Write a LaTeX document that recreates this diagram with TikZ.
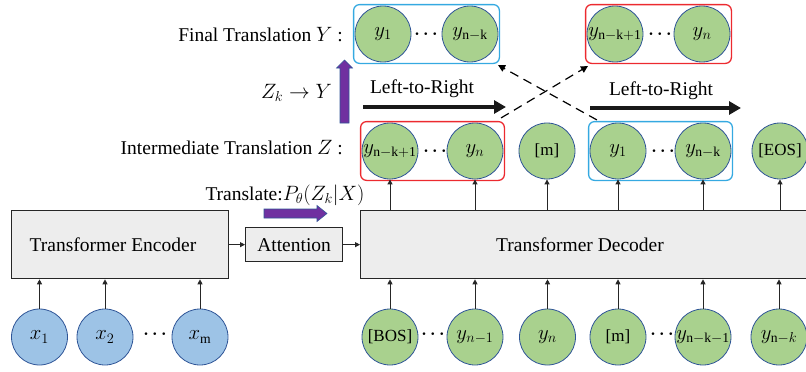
\documentclass[tikz,border=0pt]{standalone}
\usepackage{fontspec}
\setmainfont{Liberation Serif}
\usetikzlibrary{arrows.meta,fit,calc}
\definecolor{cgreen}{HTML}{A9D18E}
\definecolor{cblue}{HTML}{9DC3E6}
\definecolor{cedge}{HTML}{2F5597}
\definecolor{cgray}{HTML}{EDEDED}
\definecolor{cred}{HTML}{EC2A2F}
\definecolor{clblue}{HTML}{35A9E1}
\definecolor{cpurple}{HTML}{7030A0}
\tikzset{
  gc/.style={circle,draw=cedge,line width=0.8pt,fill=cgreen,minimum size=56pt,inner sep=0pt,font=\fontsize{17}{20}\selectfont},
  gcm/.style={gc,font=\fontsize{19.5}{22}\selectfont},
  bc/.style={gcm,fill=cblue},
  blk/.style={draw=black!85,line width=1.3pt,fill=cgray,font=\fontsize{19.5}{23}\selectfont},
  dts/.style={font=\fontsize{18}{20}\selectfont\boldmath,inner sep=0pt},
  lbl/.style={font=\fontsize{19.5}{23}\selectfont,inner sep=0pt},
  grp/.style={rounded corners=6pt,line width=1.3pt,inner sep=1pt},
  redgrp/.style={grp,draw=cred},
  bluegrp/.style={grp,draw=clblue},
  arr/.style={-{Triangle[length=5pt,width=5pt]},line width=0.9pt,black!85},
  bigarr/.style={-{Triangle[length=12pt,width=13pt]},line width=4pt,black!90},
  dasharr/.style={-{Triangle[length=7pt,width=7pt]},line width=1.2pt,dash pattern=on 9pt off 6pt},
  parr/.style={fill=cpurple,draw=cedge,line width=0.6pt},
}
\begin{document}
\begin{tikzpicture}[x=1pt,y=-1pt]
\useasboundingbox (0,0) rectangle (806,372);
% blocks
\node[blk,minimum width=217pt,minimum height=68pt,anchor=north west] (enc) at (11,210) {};
\node[lbl] (enct) at (113,245) {Transformer Encoder};
\node[blk,minimum width=97pt,minimum height=34pt,anchor=north west,inner sep=0pt] (att) at (245,227) {Attention};
\node[blk,minimum width=460pt,minimum height=68pt,anchor=north west] (dec) at (360,210) {};
\node[lbl] (dect) at (580,245) {Transformer Decoder};
% encoder inputs
\node[bc] (x1) at (39.5,337) {$x_1$};
\node[bc] (x2) at (105,337) {$x_2$};
\node[bc] (xm) at (200,337) {$x_{\mathrm{m}}$};
\node[dts] (dx) at (155,334) {$\cdots$};
% decoder inputs
\node[gc] (b1) at (390,337) {[BOS]};
\node[gcm] (b2) at (475,337) {$y_{n-1}$};
\node[gcm] (b3) at (547.5,337) {$y_n$};
\node[gc] (b4) at (618,337) {[m]};
\node[gcm] (b5) at (703,337) {$y_{\mathrm{n-k-1}}$};
\node[gcm] (b6) at (779,337) {$y_{\mathrm{n}-k}$};
\node[dts] (db1) at (433,334) {$\cdots$};
\node[dts] (db2) at (662,334) {$\cdots$};
% intermediate
\node[gcm] (m1) at (390,151) {$y_{\mathrm{n-k+1}}$};
\node[gcm] (m2) at (475,151) {$y_n$};
\node[gc] (m3) at (547,151) {[m]};
\node[gcm] (m4) at (618,151) {$y_1$};
\node[gcm] (m5) at (703,151) {$y_{\mathrm{n-k}}$};
\node[gc] (m6) at (780,151) {[EOS]};
\node[dts] (dm1) at (435,151) {$\cdots$};
\node[dts] (dm2) at (663,151) {$\cdots$};
\node[redgrp,fit=(m1)(m2)] (rmid) {};
\node[bluegrp,fit=(m4)(m5)] (bmid) {};
% final
\node[gcm] (t1) at (383,34) {$y_1$};
\node[gcm] (t2) at (470,34) {$y_{\mathrm{n-k}}$};
\node[gcm] (t3) at (615,34) {$y_{\mathrm{n-k+1}}$};
\node[gcm] (t4) at (702,34) {$y_n$};
\node[dts] (dt1) at (426,34) {$\cdots$};
\node[dts] (dt2) at (660,34) {$\cdots$};
\node[bluegrp,fit=(t1)(t2)] (btop) {};
\node[redgrp,fit=(t3)(t4)] (rtop) {};
% arrows
\draw[arr] (enc.east |- att.west) -- (att.west);
\draw[arr] (att.east) -- (att.east -| dec.west);
\foreach \n in {x1,x2,xm} \draw[arr] (\n.north) -- (\n.north |- enc.south);
\foreach \n in {b1,b2,b3,b4,b5,b6} \draw[arr] (\n.north) -- (\n.north |- dec.south);
\foreach \n in {m1,m2,m3,m4,m5,m6} \draw[arr] (\n.south |- dec.north) -- (\n.south);
\draw[dasharr] ([shift={(-4,-3)}]rmid.north east) -- ([shift={(3,2)}]rtop.south west);
\draw[dasharr] ([shift={(9,-1)}]bmid.north west) -- ([shift={(-2,1)}]btop.south east);
% left-to-right
\coordinate (l1a) at (363,107);
\coordinate (l1b) at (506,107);
\coordinate (l2a) at (590,108);
\coordinate (l2b) at (741,108);
\draw[bigarr] (l1a) -- (l1b);
\draw[bigarr] (l2a) -- (l2b);
\node[lbl] (lr1) at (422,89) {Left-to-Right};
\node[lbl] (lr2) at (661,91) {Left-to-Right};
% labels
\node[lbl,anchor=east] (fy) at (343,35) {Final Translation $Y$ :};
\node[lbl,anchor=east] (iz) at (343,148) {Intermediate Translation $Z$ :};
\node[lbl,anchor=east] (zk) at (332,93) {$Z_k\rightarrow Y$};
\node[lbl] (tr) at (285,195) {Translate:$P_\theta(Z_k|X)$};
% purple arrows
\draw[parr] (340,123) -- (340,68) -- (336.5,68) -- (344.5,60) -- (352.5,68) -- (349,68) -- (349,123) -- cycle;
\draw[parr] (264,209) -- (317,209) -- (317,205.5) -- (327,213.5) -- (317,221.5) -- (317,218) -- (264,218) -- cycle;
\end{tikzpicture}
\end{document}
